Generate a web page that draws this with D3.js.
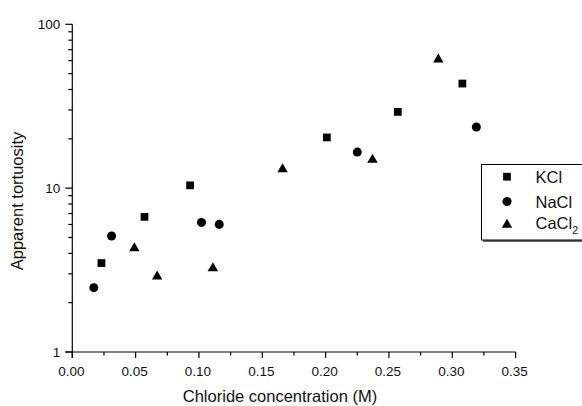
<!DOCTYPE html>
<html>
<head>
<meta charset="utf-8">
<script src="https://cdn.jsdelivr.net/npm/d3@7/dist/d3.min.js"></script>
<style>
  html, body { margin: 0; padding: 0; background: #fff; }
  svg { display: block; font-family: "Liberation Sans", Arial, sans-serif; }
</style>
</head>
<body>
<svg id="chart" width="582" height="406"></svg>
<script>
// ---- Data ----
const kclX   = [0.023, 0.057, 0.093, 0.201, 0.257, 0.308];
const kclY   = [3.49, 6.68, 10.4, 20.4, 29.2, 43.5];
const naclX  = [0.017, 0.031, 0.102, 0.116, 0.225, 0.319];
const naclY  = [2.47, 5.10, 6.18, 6.01, 16.6, 23.6];
const cacl2X = [0.049, 0.067, 0.111, 0.166, 0.237, 0.289];
const cacl2Y = [4.39, 2.95, 3.31, 13.3, 15.2, 62.3];
const xTicks = [0, 0.05, 0.10, 0.15, 0.20, 0.25, 0.30, 0.35];
const yTicks = [1, 10, 100];
const seriesNames = ["KCl", "NaCl", "CaCl"];

const svg = d3.select("#chart");
const mLeft = 72.3, mRight = 515.6, mTop = 24.3, mBottom = 352;

const x = d3.scaleLinear().domain([0, 0.35]).range([mLeft, mRight]);
const y = d3.scaleLog().domain([1, 100]).range([mBottom, mTop]);

// minor ticks
const xMinor = d3.range(0, 0.35 + 1e-9, 0.025).filter((v, i) => i % 2 === 1);
const yMinor = [];
[1, 10].forEach(d => { for (let k = 2; k <= 9; k++) yMinor.push(d * k); });

const axisColor = "#000";

// X axis
const gx = svg.append("g").attr("transform", `translate(0,${mBottom})`);
gx.append("line").attr("x1", mLeft - 7).attr("x2", mRight).attr("y1", 0).attr("y2", 0)
  .attr("stroke", axisColor).attr("stroke-width", 1.2);
gx.selectAll("line.maj").data(xTicks).enter().append("line")
  .attr("x1", d => x(d)).attr("x2", d => x(d)).attr("y1", 0).attr("y2", 6)
  .attr("stroke", axisColor).attr("stroke-width", 1.2);
gx.selectAll("line.min").data(xMinor).enter().append("line")
  .attr("x1", d => x(d)).attr("x2", d => x(d)).attr("y1", 0).attr("y2", 3.5)
  .attr("stroke", axisColor).attr("stroke-width", 1.2);
gx.selectAll("text").data(xTicks).enter().append("text")
  .attr("x", d => x(d) - 1).attr("y", 23.5)
  .attr("text-anchor", "middle").attr("font-size", "13.5px").attr("fill", "#111")
  .text(d => d.toFixed(2));

// Y axis
const gy = svg.append("g").attr("transform", `translate(${mLeft},0)`);
gy.append("line").attr("x1", 0).attr("x2", 0).attr("y1", mTop).attr("y2", mBottom + 6)
  .attr("stroke", axisColor).attr("stroke-width", 1.2);
gy.selectAll("line.maj").data(yTicks).enter().append("line")
  .attr("x1", 0).attr("x2", -7).attr("y1", d => y(d)).attr("y2", d => y(d))
  .attr("stroke", axisColor).attr("stroke-width", 1.2);
gy.selectAll("line.min").data(yMinor).enter().append("line")
  .attr("x1", 0).attr("x2", -4).attr("y1", d => y(d)).attr("y2", d => y(d))
  .attr("stroke", axisColor).attr("stroke-width", 1.2);
gy.selectAll("text").data(yTicks).enter().append("text")
  .attr("x", -12).attr("y", d => y(d) + 5)
  .attr("text-anchor", "end").attr("font-size", "13.5px").attr("fill", "#111")
  .text(d => d);

// Axis titles
svg.append("text").attr("x", 280).attr("y", 402)
  .attr("text-anchor", "middle").attr("font-size", "16.5px").attr("fill", "#111")
  .text("Chloride concentration (M)");
svg.append("text").attr("transform", `translate(23,201) rotate(-90)`)
  .attr("text-anchor", "middle").attr("font-size", "16.5px").attr("fill", "#111")
  .text("Apparent tortuosity");

// Symbols
const sqSym = d3.symbol().type(d3.symbolSquare).size(60);
const ciSym = d3.symbol().type(d3.symbolCircle).size(64);
const trSym = d3.symbol().type(d3.symbolTriangle).size(47);

function plot(xs, ys, sym, dy) {
  svg.append("g").selectAll("path").data(xs.map((v, i) => [v, ys[i]])).enter()
    .append("path")
    .attr("transform", d => `translate(${x(d[0])},${y(d[1]) + dy})`)
    .attr("d", sym()).attr("fill", "#000");
}
plot(kclX, kclY, sqSym, 0);
plot(naclX, naclY, ciSym, 0);
plot(cacl2X, cacl2Y, trSym, 1.5);

// Legend
const lg = svg.append("g");
lg.append("line").attr("x1", 483).attr("x2", 600).attr("y1", 241).attr("y2", 241)
  .attr("stroke", "#666").attr("stroke-width", 2);
lg.append("rect").attr("x", 481.5).attr("y", 164.5).attr("width", 130).attr("height", 75.5)
  .attr("fill", "#fff").attr("stroke", "#000").attr("stroke-width", 1);
const rows = [176.7, 201.5, 223.3];
const syms = [sqSym, ciSym, trSym];
const offs = [0, 0, 1.5];
rows.forEach((ry, i) => {
  lg.append("path").attr("transform", `translate(507,${ry + offs[i]})`)
    .attr("d", syms[i]()).attr("fill", "#000");
  const t = lg.append("text").attr("x", 535.5).attr("y", ry + 6)
    .attr("font-size", "16.5px").attr("fill", "#111").text(seriesNames[i]);
  if (i === 2) {
    t.append("tspan").attr("font-size", "10.5px").attr("dy", 5).text("2");
  }
});
</script>
</body>
</html>
